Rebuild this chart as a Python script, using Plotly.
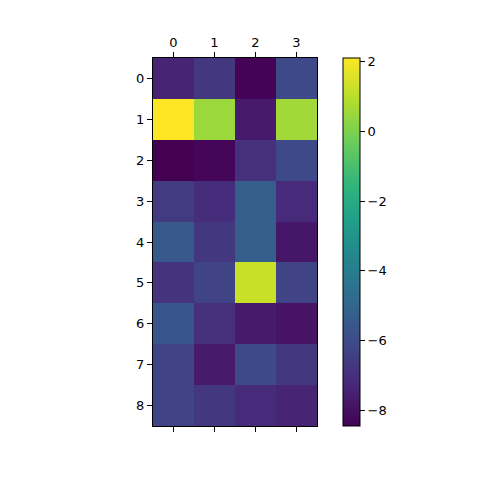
import plotly.graph_objects as go

# matrix values (rows 0..8, cols 0..3)
rows = [0, 1, 2, 3, 4, 5, 6, 7, 8]
cols = [0, 1, 2, 3]
row0 = [-7.4, -6.7, -8.4, -6.1]
row1 = [2.1, 0.5, -7.7, 0.6]
row2 = [-8.45, -8.3, -7.0, -6.1]
row3 = [-6.6, -7.1, -5.3, -7.2]
row4 = [-5.5, -6.7, -5.3, -7.8]
row5 = [-6.9, -6.3, 1.25, -6.3]
row6 = [-5.6, -7.0, -7.7, -7.9]
row7 = [-6.3, -7.7, -6.1, -6.7]
row8 = [-6.3, -6.7, -7.2, -7.4]
z = [row0, row1, row2, row3, row4, row5, row6, row7, row8]
cbar_ticks = [-8, -6, -4, -2, 0, 2]

fig = go.Figure()
fig.add_trace(go.Heatmap(
    z=z, x=cols, y=rows,
    colorscale="Viridis",
    zmin=-8.45, zmax=2.1,
    colorbar=dict(
        x=1.159, xanchor="left", xref="paper", xpad=0, ypad=0,
        y=0.5, yanchor="middle", len=1.0, lenmode="fraction",
        thickness=17, thicknessmode="pixels",
        outlinecolor="black", outlinewidth=1,
        tickvals=cbar_ticks, ticks="outside", ticklen=5,
        tickcolor="black", tickfont=dict(size=13, color="black"),
    ),
))

# page body adds ~8px offset, so margins are shifted to compensate
fig.update_layout(
    width=480, height=480,
    margin=dict(l=145, r=171, t=50, b=62),
    paper_bgcolor="white", plot_bgcolor="white",
    font=dict(family="DejaVu Sans", size=13, color="black"),
    xaxis=dict(
        side="top", range=[-0.5, 3.5], tickvals=cols,
        ticks="outside", ticklen=5, tickcolor="black",
        showline=True, linecolor="black", linewidth=1, mirror="ticks",
        showgrid=False, zeroline=False,
    ),
    yaxis=dict(
        range=[8.5, -0.5], tickvals=rows,
        ticks="outside", ticklen=5, tickcolor="black",
        showline=True, linecolor="black", linewidth=1, mirror=True,
        showgrid=False, zeroline=False,
    ),
)

fig.write_html("out.html")
